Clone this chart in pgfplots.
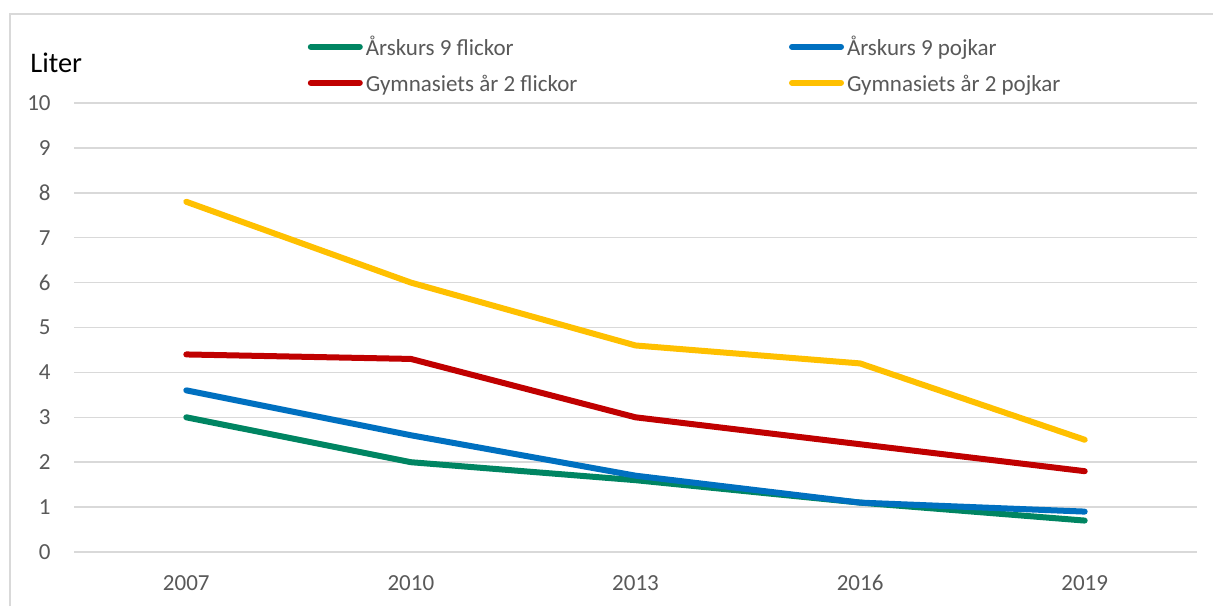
\documentclass[border=0pt]{standalone}
\usepackage{fontspec}
\setmainfont{Carlito}
\usepackage{pgfplots}
\pgfplotsset{compat=1.18}
\definecolor{cgreen}{RGB}{0,133,98}
\definecolor{cblue}{RGB}{0,112,192}
\definecolor{cred}{RGB}{192,0,0}
\definecolor{cyellow}{RGB}{255,192,0}
\definecolor{gridgray}{RGB}{217,217,217}
\definecolor{tickgray}{RGB}{89,89,89}
\begin{document}
\begin{tikzpicture}
\useasboundingbox (0,0) rectangle (606.5pt,303pt);
\fill[white] (0,0) rectangle (606.5pt,303pt);
\draw[color=gridgray, line width=0.75pt] (5pt,0) -- (5pt,296pt) -- (606.5pt,296pt);
\node[anchor=base west, inner sep=0pt, font=\fontsize{14.2}{17}\selectfont] at (15pt,266.5pt) {Liter};
\begin{axis}[
  at={(37pt,27pt)}, anchor=south west,
  width=561.5pt, height=224.5pt, scale only axis,
  xmin=-0.5, xmax=4.5, ymin=0, ymax=10,
  xtick={0,...,4}, xticklabels={2007,2010,2013,2016,2019},
  ytick={0,...,10},
  axis line style={draw=none},
  major tick length=0pt, tick style={draw=none},
  ymajorgrids, xmajorgrids=false,
  grid style={color=gridgray, line width=0.75pt},
  /pgf/number format/assume math mode=true,
  ticklabel style={font=\fontsize{11.5}{13}\selectfont, text=tickgray, inner sep=0pt},
  yticklabel style={anchor=east, xshift=-11.5pt},
  xticklabel style={anchor=north, yshift=-11.5pt},
  legend columns=2,
  legend style={at={(0.20250,1.1536)}, anchor=north west, draw=none, fill=none,
    column sep=0pt, row sep=6.5pt, font=\fontsize{11.5}{13}\selectfont, text=tickgray,
    nodes={inner sep=0pt, text height=8pt, text depth=3pt}},
  legend image code/.code={\path[draw=none,fill=none] (0pt,0pt) rectangle (24.5pt,6pt); \draw[#1] (0pt,1.8pt) -- (24.5pt,1.8pt);},
  every axis plot/.append style={line width=3pt, line cap=round, line join=round},
]
\addplot[color=cgreen] coordinates {(0,3.0)(1,2.0)(2,1.6)(3,1.1)(4,0.7)};
\addlegendentry{\hspace{1.5pt}\makebox[211.6pt][l]{Årskurs 9 flickor}}
\addplot[color=cblue] coordinates {(0,3.6)(1,2.6)(2,1.7)(3,1.1)(4,0.9)};
\addlegendentry{\hspace{1.5pt}\makebox[150pt][l]{Årskurs 9 pojkar}}
\addplot[color=cred] coordinates {(0,4.4)(1,4.3)(2,3.0)(3,2.4)(4,1.8)};
\addlegendentry{\hspace{1.5pt}\makebox[211.6pt][l]{Gymnasiets år 2 flickor}}
\addplot[color=cyellow] coordinates {(0,7.8)(1,6.0)(2,4.6)(3,4.2)(4,2.5)};
\addlegendentry{\hspace{1.5pt}\makebox[150pt][l]{Gymnasiets år 2 pojkar}}
\end{axis}
\end{tikzpicture}
\end{document}
